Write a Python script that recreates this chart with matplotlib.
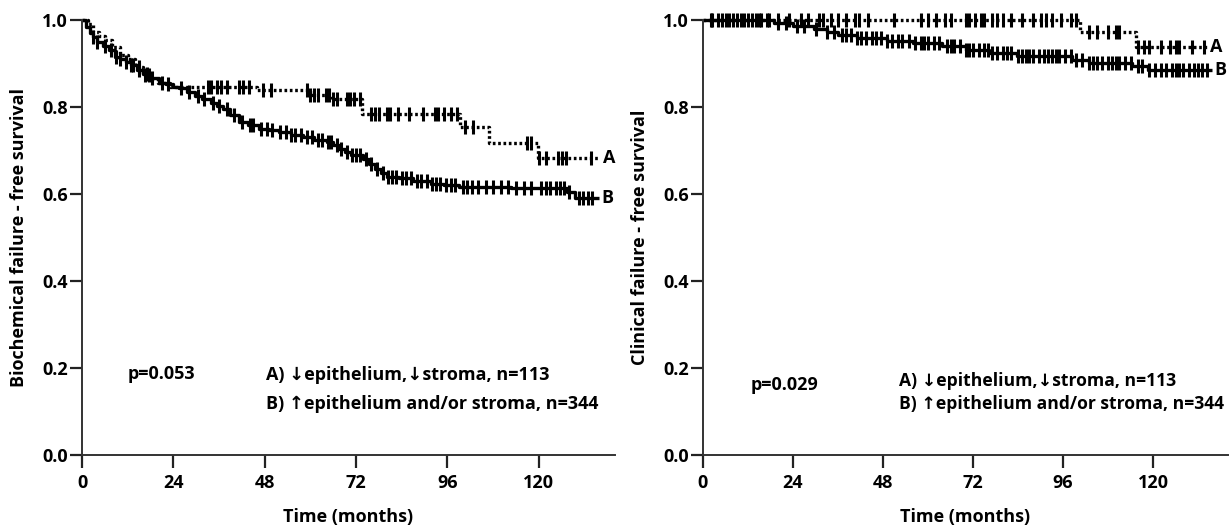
import numpy as np
import matplotlib
matplotlib.use("Agg")
import matplotlib.pyplot as plt

plt.rcParams['font.family'] = ['Open Sans', 'DejaVu Sans']
plt.rcParams['font.weight'] = 'bold'

# ---------------- Left panel: biochemical failure ----------------
bio_A_t = [0, 1.5, 3, 4.5, 6, 8, 10, 12, 14, 16, 18, 20, 23, 46, 60, 65.5, 73.5, 99.2, 106.8, 119.7, 136]
bio_A_s = [1.0, 0.991, 0.973, 0.964, 0.955, 0.937, 0.919, 0.91, 0.892, 0.874, 0.865, 0.856, 0.847,
           0.838, 0.828, 0.818, 0.785, 0.754, 0.717, 0.683, 0.683]
bio_A_cens = [15, 16.5, 17.6, 33, 34, 35.4, 36.4, 38, 41.2, 42.2, 43.8, 47.5, 49.6, 59, 60, 61, 62,
              64, 65, 66, 67, 69.5, 70.5, 71.5, 73, 76, 77, 78, 80, 81, 83, 86, 89.5, 92.6, 93.5, 95,
              97, 98.4, 100.5, 102.6, 116.8, 117.9, 120, 122, 125, 126, 127, 133.6]

bio_B_t = [0, 1, 2, 3, 4, 5.5, 7, 8.6, 10, 11.5, 12.8, 14.5, 16, 18, 20.2, 22, 24, 25.4, 27.5, 29.6,
           31.5, 33.8, 35.5, 37, 39, 41.2, 43.5, 46.4, 49, 51.7, 55, 58, 61, 64.3, 66, 67.4, 69, 70.6,
           73.7, 75.5, 76.9, 78.5, 80, 83.2, 87, 91.6, 95, 99, 112.6, 127.3, 129.4, 135.7]
bio_B_s = [1.0, 0.985, 0.97, 0.96, 0.95, 0.94, 0.93, 0.916, 0.91, 0.903, 0.897, 0.886, 0.875, 0.866,
           0.856, 0.852, 0.846, 0.844, 0.835, 0.825, 0.818, 0.81, 0.803, 0.795, 0.782, 0.765, 0.758,
           0.75, 0.746, 0.742, 0.736, 0.73, 0.725, 0.719, 0.712, 0.704, 0.697, 0.689, 0.681, 0.67,
           0.658, 0.648, 0.64, 0.636, 0.63, 0.624, 0.62, 0.617, 0.613, 0.605, 0.59, 0.59]
bio_B_cens = [3, 4, 6, 7.5, 9, 10, 11.5, 13, 13.5, 15, 17, 18.5, 21, 22.5, 26, 28, 30.5, 32, 34.5, 36,
              38, 40, 42, 44, 45, 47, 48.5, 50, 52, 53.5, 55, 56, 57.5, 59, 60.5, 62, 63, 64.5, 65.5,
              67, 68, 69.5, 71, 72, 73, 74.5, 76, 77.5, 79, 80.5, 81.5, 82.5, 84, 85, 86.5, 88, 89,
              90.5, 92, 93, 94, 95.5, 97, 98, 100, 101, 102.5, 104, 106, 108, 110, 112, 114, 116, 118,
              120.5, 122, 123, 124.5, 125.5, 126.5, 128, 130.5, 131.5, 133, 134]

# ---------------- Right panel: clinical failure ----------------
cli_A_t = [0, 100.6, 115.4, 134.5]
cli_A_s = [1.0, 0.973, 0.939, 0.939]
cli_A_cens = [2.5, 5, 7, 9, 11, 13, 15, 17.5, 20, 23, 26, 28, 31, 32, 34, 36, 38, 40.5, 41.5, 44, 51,
              58, 60, 62, 64.5, 66, 70, 71, 72.5, 74, 75, 77, 78.5, 80, 82, 85, 88, 90, 91.5, 93, 95.5,
              98, 99.5, 103, 105, 108, 110, 111, 116, 117.5, 119, 122, 124.5, 126, 127, 130.5, 133.5]

cli_B_t = [0, 19, 24, 29.7, 33, 36, 41, 49, 56, 63.6, 70, 76.3, 83.7, 98.5, 102.8, 114.4, 118.6, 135.6]
cli_B_s = [1.0, 0.993, 0.987, 0.98, 0.972, 0.965, 0.958, 0.952, 0.948, 0.94, 0.932, 0.924, 0.917,
           0.909, 0.901, 0.894, 0.885, 0.885]
cli_B_cens = [2, 4, 6, 8, 10, 12, 14, 15.5, 17, 20, 22, 25, 27, 30, 33, 35, 37, 38, 39.5, 41, 42, 43.5,
              45, 46, 47.5, 49, 50.5, 52, 53, 55, 56.5, 58, 59, 60, 61.5, 63, 65, 66, 67, 68.5, 70, 71,
              72, 73.5, 75, 76, 77, 78.5, 80, 81, 82, 84, 85, 86, 87, 88, 89.5, 91, 92, 93, 94, 95,
              96.5, 98, 99.5, 101, 103, 104, 105, 106.5, 108, 109, 110, 111, 112.5, 114, 116, 117, 119,
              120.5, 122, 123.5, 125, 126, 127, 128, 129.5, 131, 132, 133, 134.5]

x_ticks = [0, 24, 48, 72, 96, 120]
y_ticks = [0.0, 0.2, 0.4, 0.6, 0.8, 1.0]
legend_A = "A) \u2193epithelium,\u2193stroma, n=113"
legend_B = "B) \u2191epithelium and/or stroma, n=344"

FS = 13

fig = plt.figure(figsize=(12.32, 5.25), dpi=100)
W, H = 1232, 525
axL = fig.add_axes([82 / W, 1 - 455 / H, (615 - 82) / W, (455 - 20) / H])
axR = fig.add_axes([703 / W, 1 - 455 / H, (1228 - 703) / W, (455 - 20) / H])


def km(ax, t, s, cens, ls):
    t = np.asarray(t, float)
    s = np.asarray(s, float)
    ax.step(t, s, where='post', color='black', lw=2.4, linestyle=ls, solid_capstyle='butt')
    c = np.asarray(cens, float)
    idx = np.searchsorted(t, c, side='right') - 1
    ax.plot(c, s[idx], linestyle='none', marker='|', markersize=10, mew=2.2, color='black')
    return s[-1], t[-1]


def style(ax, ylabel, ptxt, p_t, pS, legx, legS, legS2, legfs):
    ax.set_xlim(0, 140)
    ax.set_ylim(0, 1.0)
    ax.set_xticks(x_ticks)
    ax.set_yticks(y_ticks)
    ax.set_yticklabels([f"{v:.1f}" for v in y_ticks])
    for sp in ['top', 'right']:
        ax.spines[sp].set_visible(False)
    for sp in ['left', 'bottom']:
        ax.spines[sp].set_color('#333333')
        ax.spines[sp].set_linewidth(1.4)
    ax.tick_params(axis='y', length=9, width=1.6, labelsize=FS, pad=1, color='#222222')
    ax.tick_params(axis='x', length=9, width=1.6, labelsize=FS, pad=5, color='#222222')
    for lab in ax.get_xticklabels() + ax.get_yticklabels():
        lab.set_fontweight('bold')
    ax.set_xlabel("Time (months)", fontsize=FS, fontweight='bold', labelpad=11)
    ax.set_ylabel(ylabel, fontsize=FS, fontweight='bold', labelpad=10)
    ax.text(p_t, pS, ptxt, fontsize=FS, fontweight='bold', va='baseline', ha='left')
    ax.text(legx, legS, legend_A, fontsize=legfs, fontweight='bold', va='baseline', ha='left')
    ax.text(legx, legS2, legend_B, fontsize=legfs, fontweight='bold', va='baseline', ha='left')


sA, tA = km(axL, bio_A_t, bio_A_s, bio_A_cens, (0, (0.8, 0.8)))
sB, tB = km(axL, bio_B_t, bio_B_s, bio_B_cens, '-')
axL.text(tA + 0.8, sA, "A", fontsize=FS, fontweight='bold', va='center', ha='left')
axL.text(tB + 0.8, sB, "B", fontsize=FS, fontweight='bold', va='center', ha='left')
style(axL, "Biochemical failure - free survival", "p=0.053", 12.1, 0.175, 48.3, 0.172, 0.106, FS)

sA, tA = km(axR, cli_A_t, cli_A_s, cli_A_cens, (0, (0.8, 0.8)))
sB, tB = km(axR, cli_B_t, cli_B_s, cli_B_cens, '-')
axR.text(tA + 0.8, sA, "A", fontsize=FS, fontweight='bold', va='center', ha='left')
axR.text(tB + 0.8, sB, "B", fontsize=FS, fontweight='bold', va='center', ha='left')
style(axR, "Clinical failure - free survival", "p=0.029", 12.8, 0.149, 52.3, 0.159, 0.106, 12.6)

for ax in (axL, axR):
    for a in ax.lines:
        a.set_clip_on(False)

fig.savefig("out.png", dpi=100)
